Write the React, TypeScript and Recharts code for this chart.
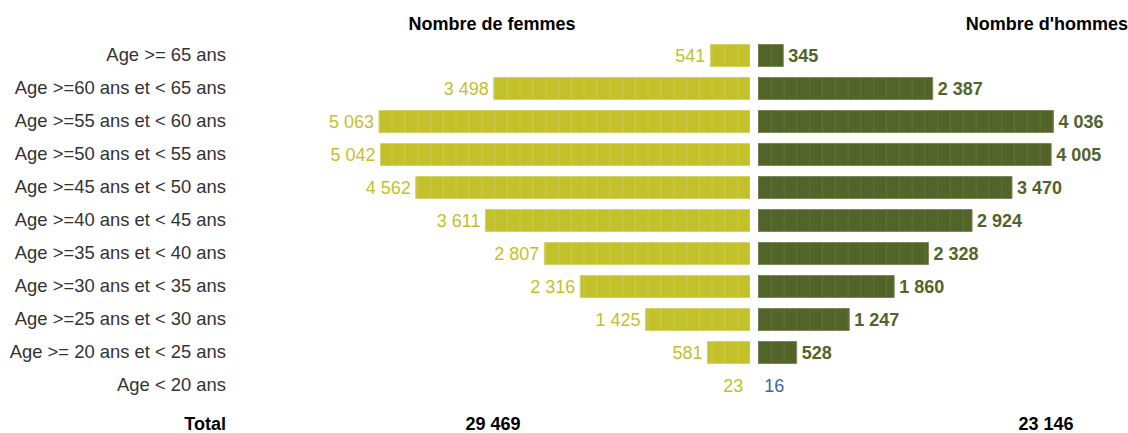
import { BarChart, Bar, XAxis, YAxis, LabelList, Cell } from 'recharts';

const categories = [
  'Age >= 65 ans',
  'Age >=60 ans et < 65 ans',
  'Age >=55 ans et < 60 ans',
  'Age >=50 ans et < 55 ans',
  'Age >=45 ans et < 50 ans',
  'Age >=40 ans et < 45 ans',
  'Age >=35 ans et < 40 ans',
  'Age >=30 ans et < 35 ans',
  'Age >=25 ans et < 30 ans',
  'Age >= 20 ans et < 25 ans',
  'Age < 20 ans',
];
const women = [541, 3498, 5063, 5042, 4562, 3611, 2807, 2316, 1425, 581, 23];
const men = [345, 2387, 4036, 4005, 3470, 2924, 2328, 1860, 1247, 528, 16];
// rows shown with a label only, no bar
const noBar = ['Age < 20 ans'];

const data = categories.map((cat, i) => ({ cat, women: women[i], men: men[i] }));
const totalWomen = women.reduce((a, b) => a + b, 0);
const totalMen = men.reduce((a, b) => a + b, 0);

const FONT = '"Liberation Sans", Arial, sans-serif';
const WOMEN = '#C3C12A';
const MEN = '#526429';
const STEP = 12.8;

const fmt = (n: number) => String(n).replace(/\B(?=(\d{3})+(?!\d))/g, ' ');

const CatTick = (props: any) => (
  <text x={226} y={props.y} dy={6} textAnchor="end" fill="#333" fontSize={18.4} fontFamily={FONT}>
    {props.payload.value}
  </text>
);

const WomenLabel = (props: any) => {
  const { x, y, width, height, value } = props;
  const left = Math.min(x, x + width);
  return (
    <text x={left - 5} y={y + height / 2} dy={6} textAnchor="end" fill={WOMEN} fontSize={18} fontFamily={FONT}>
      {fmt(value)}
    </text>
  );
};

const MenLabel = (props: any) => {
  const { x, y, width, height, value, index } = props;
  const right = Math.max(x, x + width);
  const bare = noBar.includes(categories[index]);
  return (
    <text
      x={right + 5}
      y={y + height / 2}
      dy={6}
      textAnchor="start"
      fill={bare ? '#3E66A6' : MEN}
      fontWeight={bare ? 'normal' : 'bold'}
      fontSize={18}
      fontFamily={FONT}
    >
      {fmt(value)}
    </text>
  );
};

const textStyle = (extra: React.CSSProperties): React.CSSProperties => ({
  position: 'absolute',
  fontFamily: FONT,
  fontSize: 18,
  fontWeight: 'bold',
  color: '#000',
  lineHeight: '20px',
  whiteSpace: 'nowrap',
  ...extra,
});

export default function App() {
  return (
    <div style={{ position: 'absolute', left: 0, top: 0, width: 1128, height: 433, background: '#fff' }}>
      <div style={textStyle({ left: 392, top: 14, width: 200, textAlign: 'center' })}>Nombre de femmes</div>
      <div style={textStyle({ right: 0, top: 14, textAlign: 'right' })}>Nombre d'hommes</div>

      <div style={{ position: 'absolute', left: 0, top: 0 }}>
        <BarChart
          width={750}
          height={410}
          data={data}
          layout="vertical"
          margin={{ top: 38.5, right: 0, bottom: 8.5, left: 0 }}
          barSize={22}
        >
          <defs>
            <pattern id="wStripe" patternUnits="userSpaceOnUse" x={7.6} y={0} width={STEP} height={10}>
              <rect x={0} y={0} width={STEP} height={10} fill={WOMEN} />
              <rect x={0} y={0} width={1} height={10} fill="#CDCB52" />
            </pattern>
          </defs>
          <XAxis type="number" domain={[0, 5500]} reversed hide />
          <YAxis
            type="category"
            dataKey="cat"
            width={347}
            axisLine={false}
            tickLine={false}
            tick={<CatTick />}
            interval={0}
          />
          <Bar dataKey="women" fill="url(#wStripe)" stroke="#D3D266" strokeWidth={1} isAnimationActive={false}>
            {data.map((d) => (
              <Cell key={d.cat} fillOpacity={noBar.includes(d.cat) ? 0 : 1} strokeOpacity={noBar.includes(d.cat) ? 0 : 1} />
            ))}
            <LabelList dataKey="women" content={<WomenLabel />} />
          </Bar>
        </BarChart>
      </div>

      <div style={{ position: 'absolute', left: 758, top: 0 }}>
        <BarChart
          width={370}
          height={410}
          data={data}
          layout="vertical"
          margin={{ top: 38.5, right: 4, bottom: 8.5, left: 0 }}
          barSize={22}
        >
          <defs>
            <pattern id="mStripe" patternUnits="userSpaceOnUse" x={0} y={0} width={STEP} height={10}>
              <rect x={0} y={0} width={STEP} height={10} fill={MEN} />
              <rect x={0} y={0} width={1} height={10} fill="#62733A" />
            </pattern>
          </defs>
          <XAxis type="number" domain={[0, 5000]} hide />
          <YAxis type="category" dataKey="cat" hide width={0} />
          <Bar dataKey="men" fill="url(#mStripe)" stroke="#7A8958" strokeWidth={1} isAnimationActive={false}>
            {data.map((d) => (
              <Cell key={d.cat} fillOpacity={noBar.includes(d.cat) ? 0 : 1} strokeOpacity={noBar.includes(d.cat) ? 0 : 1} />
            ))}
            <LabelList dataKey="men" content={<MenLabel />} />
          </Bar>
        </BarChart>
      </div>

      <div style={textStyle({ right: 1128 - 226, top: 414, textAlign: 'right' })}>Total</div>
      <div style={textStyle({ left: 443, top: 414, width: 100, textAlign: 'center' })}>{fmt(totalWomen)}</div>
      <div style={textStyle({ left: 996, top: 414, width: 100, textAlign: 'center' })}>{fmt(totalMen)}</div>
    </div>
  );
}
